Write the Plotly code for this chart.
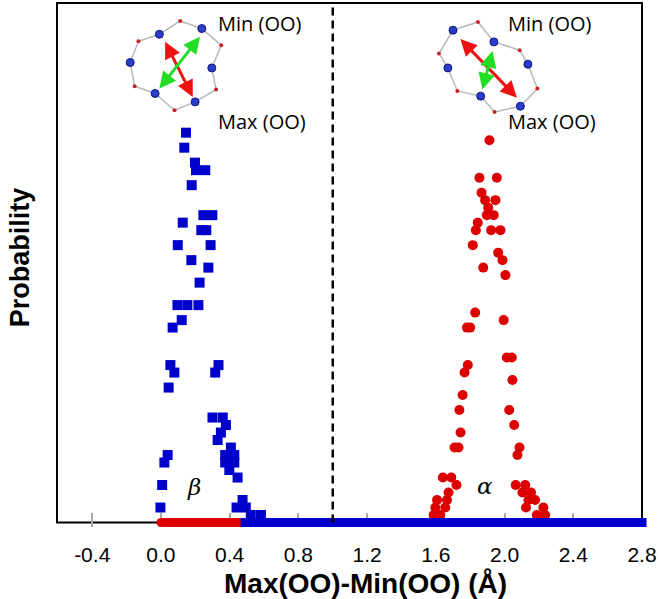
import plotly.graph_objects as go

# --- data: beta phase (blue squares), x = Max(OO)-Min(OO), y = probability (counts) ---
beta_x = [0.146, 0.136, 0.198, 0.204, 0.258, 0.179, 0.247, 0.299, 0.127, 0.235, 0.264,
          0.098, 0.289, 0.177, 0.276, 0.225, 0.096, 0.154, 0.218, 0.121, 0.068,
          0.055, 0.335, 0.078, 0.316, 0.045, 0.300, 0.360, 0.378, 0.349, 0.330,
          0.407, 0.039, 0.374, 0.427, 0.020, 0.374, 0.427, 0.398, 0.446, 0.007,
          0.475, -0.003, 0.440, 0.494, 0.523, 0.582]
beta_y = [52, 50, 48, 47, 47, 45, 41, 41, 40, 39, 39,
          37, 37, 35, 34, 32, 29, 29, 29, 27, 26,
          21, 21, 20, 20, 18, 14, 14, 13, 12, 11,
          10, 9, 9, 9, 8, 8, 8, 7, 6, 5,
          3, 2, 2, 2, 1, 1]

# --- alpha phase (red circles) ---
alpha_x = [1.912, 1.854, 1.955, 1.866, 1.887, 1.947, 1.905, 1.897, 1.937, 1.844, 1.833,
           1.922, 1.976, 1.815, 1.963, 1.988, 1.876, 2.005, 1.829, 1.995, 1.781, 1.800,
           2.013, 2.042, 1.786, 1.767, 2.046, 1.756, 1.737, 2.027, 2.056, 1.744, 1.709,
           1.732, 2.087, 2.075, 1.641, 1.690, 1.720, 2.065, 2.120, 1.674, 2.104, 2.154,
           1.607, 1.665, 2.139, 2.178, 1.597, 1.655, 2.125, 2.226, 1.587, 1.626, 2.188, 2.236]
alpha_y = [51, 46, 46, 44, 43, 43, 42, 41, 41, 40, 39,
           39, 39, 37, 36, 35, 34, 33, 28, 27, 26, 26,
           22, 22, 21, 20, 19, 17, 15, 15, 13, 12, 10,
           10, 10, 9, 6, 6, 5, 5, 5, 4, 4, 4,
           3, 3, 3, 3, 2, 2, 2, 2, 1, 1, 1, 1]

# zero-probability runs along the baseline
alpha_zero_x = [0.0, 0.49]
beta_zero_x = [0.49, 2.8]

x_ticks = [-0.4, 0.0, 0.4, 0.8, 1.2, 1.6, 2.0, 2.4, 2.8]
x_tick_text = ["-0.4", "0.0", "0.4", "0.8", "1.2", "1.6", "2.0", "2.4", "2.8"]
x_range = [-0.605, 2.8]
y_range = [-0.6, 69.3]
divider_x = 1.0

# --- inset rings (O = blue, bridging atoms = red), in data units ---
ring_beta_x = [-0.009, 0.112, 0.238, 0.351, 0.296, 0.321, 0.199, 0.079, -0.034, -0.153, -0.179, -0.131]
ring_beta_y = [65.13, 66.91, 65.89, 63.67, 60.64, 57.76, 56.11, 55.0, 57.23, 58.2, 61.36, 64.2]
ring_alpha_x = [1.700, 1.845, 1.938, 2.088, 2.136, 2.191, 2.092, 1.942, 1.861, 1.725, 1.670, 1.618]
ring_alpha_y = [65.67, 66.77, 64.11, 63.0, 61.13, 57.89, 55.53, 54.77, 56.87, 57.57, 60.64, 62.56]
# arrows: (x_start, y_start, x_end, y_end, colour)
inset_arrows = [
    (0.020, 64.33, 0.185, 56.77, "#ee1111"),
    (0.234, 65.0, -0.009, 57.89, "#22dd22"),
    (1.734, 64.69, 2.072, 56.67, "#ee1111"),
    (1.932, 63.09, 1.871, 57.76, "#22dd22"),
]
label_min = ["Min (OO)", "Min (OO)"]
label_max = ["Max (OO)", "Max (OO)"]
label_x = [0.323, 2.006]

BLUE = "#0000cc"
RED = "#dd0000"

fig = go.Figure()

# inset molecule sketches
for rx, ry in [(ring_beta_x, ring_beta_y), (ring_alpha_x, ring_alpha_y)]:
    fig.add_trace(go.Scatter(x=rx + rx[:1], y=ry + ry[:1], mode="lines",
                             line=dict(color="#b8b8b8", width=1.5), hoverinfo="skip"))
    fig.add_trace(go.Scatter(x=rx[1::2], y=ry[1::2], mode="markers",
                             marker=dict(color="#cc2222", size=4), hoverinfo="skip"))
    fig.add_trace(go.Scatter(x=rx[0::2], y=ry[0::2], mode="markers",
                             marker=dict(color="#2a3cc8", size=8,
                                         line=dict(color="#101a80", width=1)),
                             hoverinfo="skip"))

# alpha points + baseline
fig.add_trace(go.Scatter(x=alpha_x, y=alpha_y, mode="markers", name="alpha",
                         marker=dict(symbol="circle", size=10, color=RED), cliponaxis=False))
fig.add_trace(go.Scatter(x=alpha_zero_x, y=[0] * len(alpha_zero_x), mode="lines+markers",
                         line=dict(color=RED, width=9),
                         marker=dict(symbol="circle", size=9, color=RED), cliponaxis=False))
# beta points + baseline
fig.add_trace(go.Scatter(x=beta_zero_x, y=[0] * len(beta_zero_x), mode="lines+markers",
                         line=dict(color=BLUE, width=9),
                         marker=dict(symbol="square", size=9, color=BLUE), cliponaxis=False))
fig.add_trace(go.Scatter(x=beta_x, y=beta_y, mode="markers", name="beta",
                         marker=dict(symbol="square", size=10, color=BLUE), cliponaxis=False))

# divider between the two phases
fig.add_shape(type="line", xref="x", yref="y", x0=divider_x, x1=divider_x, y0=0, y1=y_range[1],
              line=dict(color="black", width=2.5, dash="8px,5px"))

# frame: bottom edge sits on y = 0
y0_paper = (0 - y_range[0]) / (y_range[1] - y_range[0])
fig.add_shape(type="rect", xref="paper", yref="paper", x0=0, x1=1, y0=y0_paper, y1=1,
              line=dict(color="black", width=2), layer="below")

for x0, y0, x1, y1, col in inset_arrows:
    fig.add_annotation(x=x1, y=y1, ax=x0, ay=y0, xref="x", yref="y", axref="x", ayref="y",
                       text="", showarrow=True, arrowhead=2, arrowside="end+start",
                       arrowsize=1.1, arrowwidth=3, arrowcolor=col, standoff=0, startstandoff=0)

txt_font = dict(family="Open Sans", size=20, color="black")
for lx, tmin, tmax in zip(label_x, label_min, label_max):
    fig.add_annotation(x=lx, y=66.6, text=tmin, showarrow=False, xanchor="left",
                       yanchor="middle", font=txt_font)
    fig.add_annotation(x=lx, y=53.5, text=tmax, showarrow=False, xanchor="left",
                       yanchor="middle", font=txt_font)

greek_font = dict(family="DejaVu Serif", size=23, color="black")
fig.add_annotation(x=0.195, y=4.8, text="<i>β</i>", showarrow=False, font=greek_font)
fig.add_annotation(x=1.884, y=4.9, text="<i>α</i>", showarrow=False, font=greek_font)

# axis titles
fig.add_annotation(xref="paper", yref="paper", x=0.527, y=-0.107, xanchor="center",
                   yanchor="middle", showarrow=False, text="<b>Max(OO)-Min(OO) (Å)</b>",
                   font=dict(family="Liberation Sans", size=28, color="black"))
fig.add_annotation(xref="paper", yref="paper", x=-0.063, y=0.515, xanchor="center",
                   yanchor="middle", showarrow=False, text="<b>Probability</b>", textangle=-90,
                   font=dict(family="Liberation Sans", size=27, color="black"))

fig.update_layout(
    width=660, height=599,
    margin=dict(l=57, r=18, t=3, b=72),
    paper_bgcolor="white", plot_bgcolor="white",
    showlegend=False,
    xaxis=dict(range=x_range, tickvals=x_ticks, ticktext=x_tick_text,
               ticks="inside", ticklen=14, tickcolor="#a8a8a8", tickwidth=1.5,
               showgrid=False, zeroline=False, showline=False, layer="below traces",
               tickfont=dict(family="Liberation Sans", size=21, color="black"),
               ticklabelstandoff=13),
    yaxis=dict(range=y_range, showticklabels=False, ticks="", showgrid=False,
               zeroline=False, showline=False, layer="below traces"),
)

# the page's default 8px body margin would shift the figure
fig.write_html("out.html", config={"displayModeBar": False},
               post_script="document.body.style.margin = '0px';")
